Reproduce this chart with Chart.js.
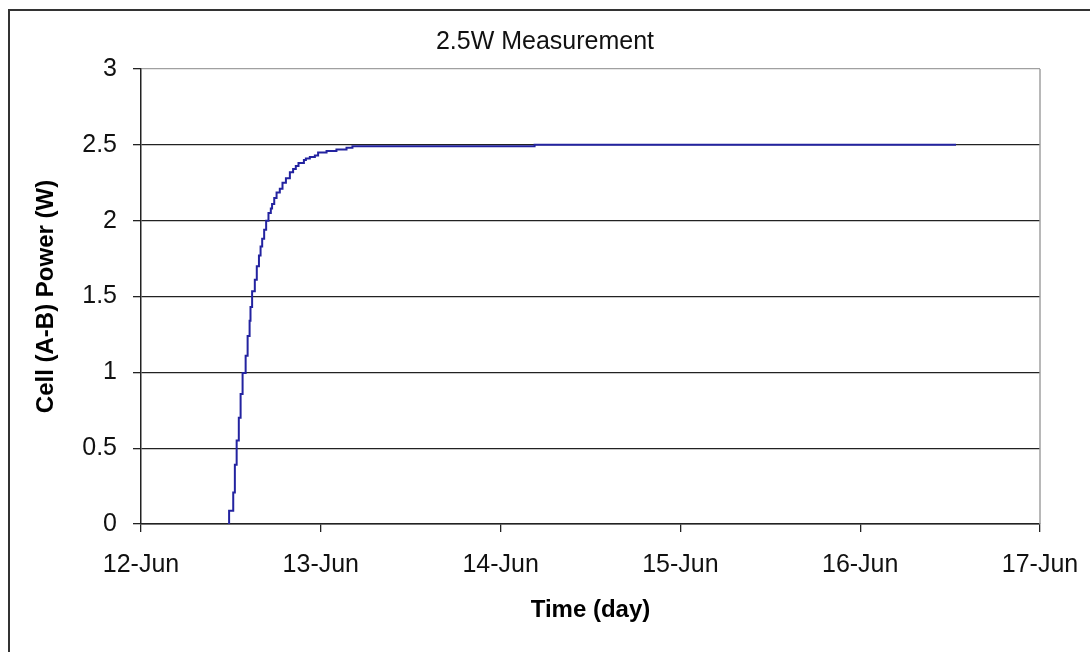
<!DOCTYPE html>
<html>
<head>
<meta charset="utf-8">
<title>2.5W Measurement</title>
<script src="https://cdn.jsdelivr.net/npm/chart.js@4/dist/chart.umd.min.js"></script>
<style>
  body { margin: 0; background: #fff; }
  canvas { display: block; }
</style>
</head>
<body>
<canvas id="powerChart" width="1090" height="652"></canvas>
<script>
// time in days (June)
const timeDays = [12.483, 12.49, 12.513, 12.522, 12.532, 12.544, 12.554, 12.565, 12.582, 12.593,
  12.604, 12.609, 12.618, 12.633, 12.644, 12.656, 12.665, 12.674, 12.685, 12.696,
  12.709, 12.722, 12.729, 12.741, 12.754, 12.772, 12.787, 12.806, 12.828, 12.846,
  12.861, 12.876, 12.906, 12.917, 12.939, 12.967, 12.985, 13.032, 13.087, 13.143,
  13.176, 14.189, 16.533];
const powerW = [0, 0.088, 0.207, 0.39, 0.55, 0.70, 0.857, 0.996, 1.11, 1.24,
  1.34, 1.43, 1.535, 1.61, 1.70, 1.77, 1.83, 1.88, 1.94, 2.0,
  2.05, 2.08, 2.11, 2.15, 2.185, 2.21, 2.25, 2.28, 2.32, 2.34,
  2.36, 2.38, 2.40, 2.41, 2.42, 2.43, 2.45, 2.46, 2.47, 2.48,
  2.49, 2.5, 2.5];
const xTickLabels = ["12-Jun", "13-Jun", "14-Jun", "15-Jun", "16-Jun", "17-Jun"];
const yTicks = [0, 0.5, 1, 1.5, 2, 2.5, 3];

const FONT = '"Liberation Sans", Arial, sans-serif';
const points = timeDays.map((t, i) => ({ x: t, y: powerW[i] }));

// white page + Excel style frame and plot border
const frame = {
  id: 'frame',
  beforeDraw(chart) {
    const c = chart.ctx;
    c.save();
    c.fillStyle = '#fff';
    c.fillRect(0, 0, chart.width, chart.height);
    c.strokeStyle = '#333';
    c.lineWidth = 2;
    c.beginPath();
    c.moveTo(9, chart.height + 5);
    c.lineTo(9, 10);
    c.lineTo(chart.width + 5, 10);
    c.stroke();
    c.restore();
  },
  afterDatasetsDraw(chart) {
    const a = chart.chartArea;
    const c = chart.ctx;
    c.save();
    c.strokeStyle = '#a0a0a0';
    c.lineWidth = 1.5;
    c.beginPath();
    c.moveTo(a.right, a.top);
    c.lineTo(a.right, a.bottom);
    c.stroke();
    c.restore();
  }
};

new Chart(document.getElementById('powerChart'), {
  type: 'line',
  data: {
    datasets: [{
      label: 'Cell (A-B) Power',
      data: points,
      stepped: 'before',
      borderColor: '#2323a0',
      borderWidth: 2,
      pointRadius: 0,
      fill: false
    }]
  },
  options: {
    responsive: false,
    animation: false,
    layout: { padding: 0 },
    plugins: {
      legend: { display: false },
      tooltip: { enabled: false },
      title: {
        display: true,
        text: '2.5W Measurement',
        color: '#111',
        font: { family: FONT, size: 25, weight: 'normal' },
        padding: { top: 27, bottom: 12 }
      }
    },
    scales: {
      x: {
        type: 'linear',
        min: 12,
        max: 17,
        afterFit(scale) {
          scale.height = 128;
          scale.paddingRight = 50;
        },
        afterBuildTicks(scale) {
          scale.ticks = xTickLabels.map((_, i) => ({ value: 12 + i }));
        },
        ticks: {
          color: '#111',
          font: { family: FONT, size: 25 },
          padding: 18,
          maxRotation: 0,
          callback: (v) => xTickLabels[v - 12]
        },
        grid: {
          drawOnChartArea: false,
          drawTicks: true,
          tickLength: 8,
          tickColor: '#222',
          lineWidth: 1.3
        },
        border: { color: '#222', width: 1.5 },
        title: {
          display: true,
          text: 'Time (day)',
          color: '#000',
          font: { family: FONT, size: 24, weight: 'bold' },
          padding: { top: 0, bottom: 27 }
        }
      },
      y: {
        min: 0,
        max: 3,
        afterFit(scale) { scale.width = 141; },
        afterBuildTicks(scale) {
          scale.ticks = yTicks.map(v => ({ value: v }));
        },
        ticks: {
          color: '#111',
          font: { family: FONT, size: 25 },
          padding: 16,
          callback: (v) => String(v)
        },
        grid: {
          color: (ctx) => ctx.tick && ctx.tick.value === 3 ? '#a0a0a0' : '#222',
          lineWidth: 1.3,
          drawTicks: true,
          tickLength: 8,
          tickColor: '#222'
        },
        border: { color: '#222', width: 1.5 },
        title: {
          display: true,
          text: 'Cell (A-B) Power (W)',
          color: '#000',
          font: { family: FONT, size: 24, weight: 'bold' },
          padding: { top: 32, bottom: 0 }
        }
      }
    }
  },
  plugins: [frame]
});
</script>
</body>
</html>
